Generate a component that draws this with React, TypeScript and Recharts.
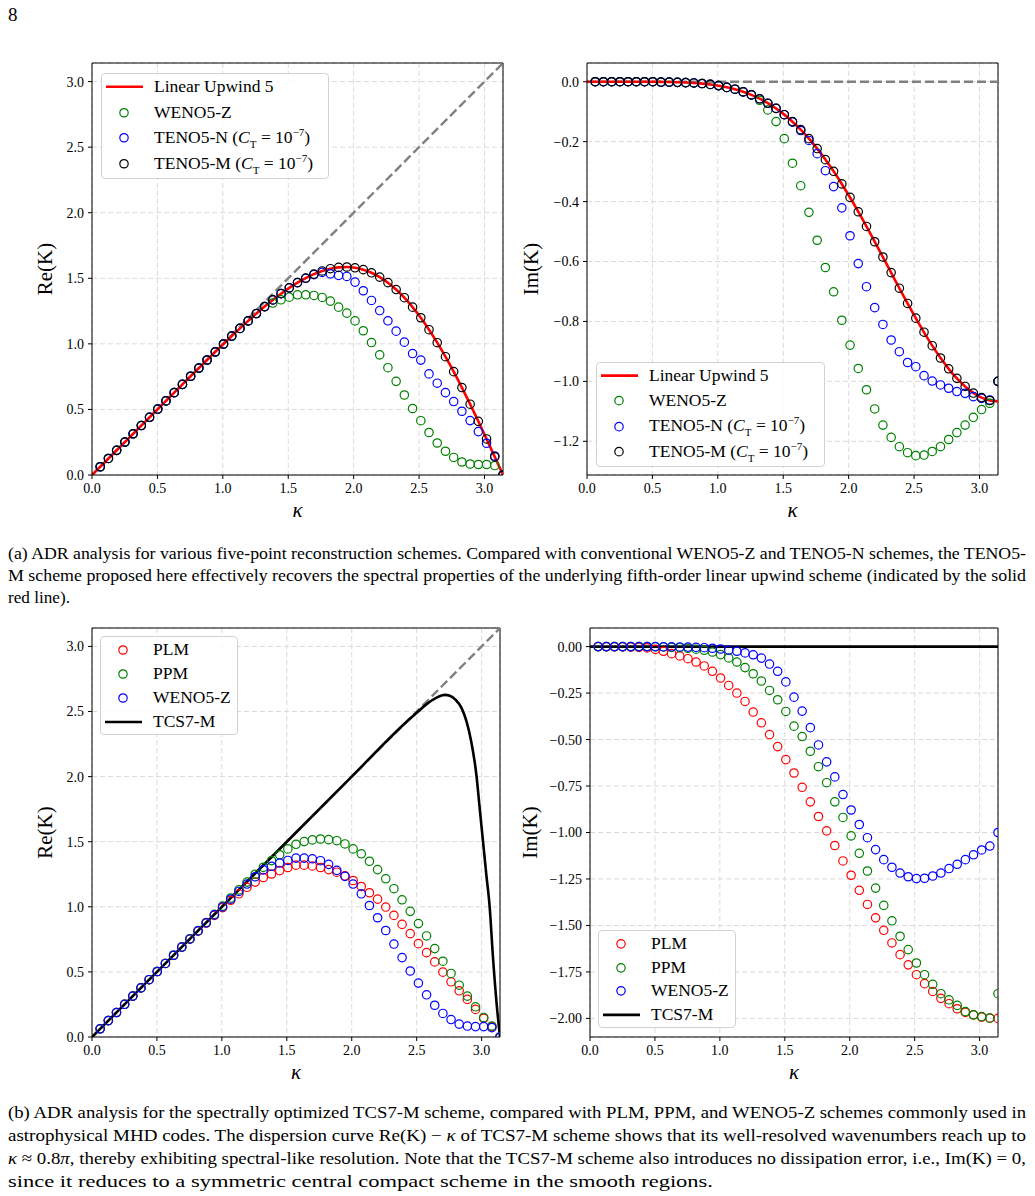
import React from 'react';
import { ComposedChart, Line, XAxis, YAxis, CartesianGrid, Legend, ReferenceLine } from 'recharts';

const SERIF = '"Liberation Serif", "Times New Roman", serif';
const XMAX = 3.1416;

// wavenumber grid of the marker samples (k = i*pi/50)
const kappa = [
  0.0628, 0.1257, 0.1885, 0.2513, 0.3142, 0.3770, 0.4398, 0.5027, 0.5655, 0.6283,
  0.6912, 0.7540, 0.8168, 0.8796, 0.9425, 1.0053, 1.0681, 1.1310, 1.1938, 1.2566,
  1.3195, 1.3823, 1.4451, 1.5080, 1.5708, 1.6336, 1.6965, 1.7593, 1.8221, 1.8850,
  1.9478, 2.0106, 2.0735, 2.1363, 2.1991, 2.2619, 2.3248, 2.3876, 2.4504, 2.5133,
  2.5761, 2.6389, 2.7018, 2.7646, 2.8274, 2.8903, 2.9531, 3.0159, 3.0788, 3.1416,
];
const uw5Kappa = [0, ...kappa];

const uw5Re = [0,
  0.0628, 0.1256, 0.1885, 0.2513, 0.3141, 0.3770, 0.4398, 0.5027, 0.5653, 0.6281,
  0.6906, 0.7530, 0.8153, 0.8771, 0.9385, 0.9992, 1.0591, 1.1178, 1.1751, 1.2307,
  1.2840, 1.3349, 1.3826, 1.4267, 1.4667, 1.5019, 1.5317, 1.5557, 1.5731, 1.5834,
  1.5858, 1.5801, 1.5657, 1.5420, 1.5091, 1.4665, 1.4141, 1.3518, 1.2800, 1.1987,
  1.1082, 1.0093, 0.9021, 0.7877, 0.6668, 0.5404, 0.4094, 0.2748, 0.1381, 0,
];
const uw5Im = [0,
  0, 0, 0, 0, 0, 0, -0.0001, -0.0003, -0.0005, -0.0009,
  -0.0016, -0.0027, -0.0042, -0.0064, -0.0093, -0.0133, -0.0186, -0.0252, -0.0336, -0.0440,
  -0.0565, -0.0715, -0.0892, -0.1098, -0.1333, -0.1601, -0.1900, -0.2232, -0.2596, -0.2991,
  -0.3414, -0.3865, -0.4338, -0.4830, -0.5337, -0.5853, -0.6373, -0.6892, -0.7400, -0.7893,
  -0.8364, -0.8807, -0.9215, -0.9582, -0.9903, -1.0172, -1.0386, -1.0541, -1.0635, -1.0667,
];

const tenoMRe = [
  0.063, 0.126, 0.188, 0.251, 0.314, 0.377, 0.440, 0.503, 0.565, 0.628,
  0.691, 0.753, 0.815, 0.877, 0.939, 0.999, 1.059, 1.118, 1.175, 1.231,
  1.284, 1.335, 1.383, 1.427, 1.467, 1.502, 1.532, 1.556, 1.573, 1.583,
  1.586, 1.580, 1.566, 1.542, 1.509, 1.467, 1.414, 1.352, 1.280, 1.199,
  1.108, 1.009, 0.902, 0.788, 0.667, 0.540, 0.409, 0.275, 0.138, 0,
];
const tenoMIm = [
  0, 0, 0, 0, 0, 0, 0, 0, -0.001, -0.001,
  -0.002, -0.003, -0.004, -0.006, -0.009, -0.013, -0.019, -0.025, -0.034, -0.044,
  -0.057, -0.072, -0.089, -0.110, -0.133, -0.160, -0.190, -0.223, -0.260, -0.299,
  -0.341, -0.386, -0.434, -0.483, -0.534, -0.585, -0.637, -0.689, -0.740, -0.789,
  -0.836, -0.881, -0.922, -0.958, -0.990, -1.017, -1.039, -1.054, -1.064, -1.000,
];

const wenoZRe = [
  0.063, 0.126, 0.188, 0.251, 0.314, 0.377, 0.440, 0.503, 0.565, 0.628,
  0.691, 0.753, 0.815, 0.877, 0.938, 0.999, 1.059, 1.118, 1.175, 1.231,
  1.284, 1.311, 1.336, 1.356, 1.374, 1.374, 1.369, 1.354, 1.326, 1.280,
  1.234, 1.175, 1.100, 1.010, 0.916, 0.818, 0.714, 0.610, 0.507, 0.414,
  0.324, 0.244, 0.181, 0.134, 0.099, 0.084, 0.080, 0.080, 0.072, 0,
];
const wenoZIm = [
  0, 0, 0, 0, 0, 0, 0, 0, -0.001, -0.001,
  -0.002, -0.003, -0.004, -0.006, -0.009, -0.013, -0.019, -0.025, -0.034, -0.044,
  -0.062, -0.094, -0.133, -0.190, -0.272, -0.347, -0.436, -0.529, -0.620, -0.701,
  -0.796, -0.879, -0.957, -1.028, -1.092, -1.146, -1.187, -1.218, -1.238, -1.248,
  -1.246, -1.234, -1.218, -1.194, -1.171, -1.146, -1.120, -1.094, -1.073, -1.000,
];

const tenoNRe = [
  0.063, 0.126, 0.188, 0.251, 0.314, 0.377, 0.440, 0.503, 0.565, 0.628,
  0.691, 0.753, 0.815, 0.877, 0.939, 0.999, 1.059, 1.118, 1.175, 1.231,
  1.284, 1.335, 1.383, 1.427, 1.467, 1.500, 1.528, 1.545, 1.534, 1.522,
  1.514, 1.471, 1.405, 1.331, 1.254, 1.176, 1.097, 1.013, 0.926, 0.876,
  0.771, 0.700, 0.628, 0.560, 0.486, 0.415, 0.331, 0.242, 0.145, 0,
];
const tenoNIm = [
  0, 0, 0, 0, 0, 0, 0, 0, -0.001, -0.001,
  -0.002, -0.003, -0.004, -0.006, -0.009, -0.013, -0.019, -0.025, -0.034, -0.044,
  -0.057, -0.072, -0.089, -0.110, -0.135, -0.163, -0.196, -0.240, -0.297, -0.350,
  -0.421, -0.514, -0.607, -0.684, -0.754, -0.810, -0.862, -0.901, -0.937, -0.951,
  -0.981, -0.999, -1.012, -1.023, -1.034, -1.040, -1.051, -1.057, -1.062, -1.000,
];

const plmRe = [
  0.063, 0.126, 0.188, 0.251, 0.314, 0.377, 0.440, 0.503, 0.565, 0.628,
  0.690, 0.752, 0.813, 0.874, 0.934, 0.993, 1.050, 1.100, 1.150, 1.190,
  1.225, 1.252, 1.278, 1.302, 1.320, 1.320, 1.314, 1.302, 1.286, 1.266,
  1.238, 1.202, 1.156, 1.108, 1.059, 0.998, 0.934, 0.865, 0.794, 0.717,
  0.648, 0.577, 0.498, 0.424, 0.355, 0.289, 0.212, 0.143, 0.079, 0,
];
const ppmRe = [
  0.063, 0.126, 0.188, 0.251, 0.314, 0.377, 0.440, 0.503, 0.565, 0.628,
  0.691, 0.754, 0.817, 0.880, 0.942, 1.005, 1.068, 1.130, 1.190, 1.250,
  1.304, 1.355, 1.400, 1.445, 1.480, 1.501, 1.514, 1.521, 1.516, 1.508,
  1.483, 1.445, 1.407, 1.350, 1.286, 1.215, 1.139, 1.054, 0.965, 0.871,
  0.776, 0.679, 0.582, 0.488, 0.398, 0.314, 0.232, 0.150, 0.085, 0,
];
const plmIm = [
  0, -0.001, -0.001, -0.002, -0.003, -0.004, -0.007, -0.015, -0.025, -0.038,
  -0.050, -0.065, -0.083, -0.104, -0.133, -0.169, -0.209, -0.250, -0.295, -0.352,
  -0.410, -0.473, -0.538, -0.608, -0.680, -0.757, -0.835, -0.914, -0.991, -1.070,
  -1.153, -1.230, -1.311, -1.387, -1.459, -1.526, -1.594, -1.657, -1.712, -1.765,
  -1.813, -1.855, -1.892, -1.921, -1.948, -1.968, -1.981, -1.993, -1.998, -2.000,
];
const ppmIm = [
  0, 0, 0, 0, 0, 0, 0, -0.001, -0.002, -0.004,
  -0.006, -0.009, -0.014, -0.020, -0.029, -0.043, -0.061, -0.083, -0.113, -0.146,
  -0.185, -0.236, -0.286, -0.349, -0.428, -0.484, -0.563, -0.646, -0.732, -0.835,
  -0.919, -1.018, -1.112, -1.207, -1.299, -1.392, -1.475, -1.558, -1.630, -1.702,
  -1.765, -1.817, -1.867, -1.900, -1.930, -1.963, -1.981, -1.990, -1.998, -1.867,
];

const tcsKappa = [0, 0.5, 1.0, 1.5, 2.0, 2.4, 2.5, 2.574, 2.65, 2.715, 2.76, 2.80, 2.844, 2.882, 2.92, 2.959, 2.985, 3.01, 3.036, 3.062, 3.087, 3.118, 3.1416];
const tcsRe = [0, 0.5, 1.0, 1.5, 2.0, 2.4, 2.49, 2.555, 2.605, 2.628, 2.62, 2.59, 2.53, 2.43, 2.27, 2.02, 1.76, 1.51, 1.25, 1.0, 0.62, 0.23, 0];
const tcsImKappa = [0, 3.1416];
const tcsIm = [0, 0];

const exactKappa = [0, 3.1416];
const exactRe = [0, 3.1416];
const exactIm = [0, 0];

const xTicks = [0, 0.5, 1.0, 1.5, 2.0, 2.5, 3.0];
const reTicks = [0, 0.5, 1.0, 1.5, 2.0, 2.5, 3.0];
const imTicksA = [0, -0.2, -0.4, -0.6, -0.8, -1.0, -1.2];
const imTicksB = [0, -0.25, -0.5, -0.75, -1.0, -1.25, -1.5, -1.75, -2.0];

const pts = (xs: number[], ys: number[]) => xs.map((k, i) => ({ k, v: ys[i] }));

type Series = { id: string; kind: 'dash' | 'line' | 'marker'; color: string; data: { k: number; v: number }[] };
type LegendItem = { label: React.ReactNode; kind: 'line' | 'marker'; color: string };

const cT = (name: string) => (
  <span>
    {name} (<i>C</i><sub style={{ fontSize: 11, lineHeight: 0 }}>T</sub> = 10<sup style={{ fontSize: 11, lineHeight: 0 }}>−7</sup>)
  </span>
);

const legendA: LegendItem[] = [
  { label: 'Linear Upwind 5', kind: 'line', color: '#ff0000' },
  { label: 'WENO5-Z', kind: 'marker', color: '#008000' },
  { label: cT('TENO5-N'), kind: 'marker', color: '#0000ff' },
  { label: cT('TENO5-M'), kind: 'marker', color: '#000000' },
];
const legendB: LegendItem[] = [
  { label: 'PLM', kind: 'marker', color: '#ff0000' },
  { label: 'PPM', kind: 'marker', color: '#008000' },
  { label: 'WENO5-Z', kind: 'marker', color: '#0000ff' },
  { label: 'TCS7-M', kind: 'line', color: '#000000' },
];

function LegendBox({ items, rowH, padTop, width, height }: { items: LegendItem[]; rowH: number; padTop: number; width: number; height: number }) {
  return (
    <div style={{
      width, height, boxSizing: 'border-box', paddingTop: padTop,
      background: 'rgba(255,255,255,0.85)', border: '1px solid #d2d2d2', borderRadius: 4,
      fontFamily: SERIF, fontSize: 17.5, color: '#000',
    }}>
      {items.map((it, i) => (
        <div key={i} style={{ display: 'flex', alignItems: 'center', height: rowH }}>
          <svg width={52} height={rowH} style={{ flex: 'none' }}>
            {it.kind === 'line'
              ? <line x1={4} x2={41} y1={rowH / 2} y2={rowH / 2} stroke={it.color} strokeWidth={2.6} />
              : <circle cx={22} cy={rowH / 2} r={4.2} fill="none" stroke={it.color} strokeWidth={1.2} />}
          </svg>
          <span style={{ whiteSpace: 'nowrap', lineHeight: 1 }}>{it.label}</span>
        </div>
      ))}
    </div>
  );
}

type PanelProps = {
  plotLeft: number; plotTop: number; plotW: number; plotH: number;
  yDomain: [number, number]; yTicks: number[]; yDigits: number;
  yLabel: string; yLabelX: number;
  series: Series[];
  legendItems: LegendItem[]; legendBox: { x: number; y: number; w: number; h: number; rowH: number; padTop: number };
};

function Panel(p: PanelProps) {
  const YW = 82, MT = 10, MR = 10, XH = 50;
  const chartLeft = p.plotLeft - YW;
  const chartTop = p.plotTop - MT;
  const fmt = (v: number) => v.toFixed(p.yDigits).replace('-', '−');
  const tickStyle = { fontFamily: SERIF, fontSize: 14, fill: '#000' };
  return (
    <div style={{ position: 'absolute', left: chartLeft, top: chartTop }}>
      <ComposedChart width={p.plotW + YW + MR} height={p.plotH + MT + XH} margin={{ top: MT, right: MR, bottom: 0, left: 0 }}>
        <CartesianGrid stroke="#dadada" strokeDasharray="5 3" strokeWidth={1} />
        <XAxis
          type="number" dataKey="k" domain={[0, XMAX]} ticks={xTicks} allowDataOverflow
          height={XH} tickSize={4} tickMargin={4} tick={tickStyle}
          tickFormatter={(v: number) => v.toFixed(1)}
          axisLine={{ stroke: '#000' }} tickLine={{ stroke: '#000' }}
          label={{ value: 'κ', position: 'insideBottom', offset: 8, style: { fontFamily: SERIF, fontSize: 21, fontStyle: 'italic', fill: '#000' } }}
        />
        <YAxis
          type="number" domain={p.yDomain} ticks={p.yTicks} allowDataOverflow
          width={YW} tickSize={4} tickMargin={4} tick={tickStyle} tickFormatter={fmt}
          axisLine={{ stroke: '#000' }} tickLine={{ stroke: '#000' }}
          label={{ value: p.yLabel, angle: -90, position: 'insideLeft', offset: p.yLabelX - chartLeft, style: { fontFamily: SERIF, fontSize: 21, fill: '#000', textAnchor: 'middle' } }}
        />
        <ReferenceLine x={XMAX} stroke="#000" strokeWidth={1} />
        <ReferenceLine y={p.yDomain[1]} stroke="#000" strokeWidth={1} />
        {p.series.map((s) => {
          if (s.kind === 'marker') {
            return (
              <Line key={s.id} data={s.data} dataKey="v" type="linear" stroke="none" strokeWidth={0}
                dot={{ r: 4.2, stroke: s.color, strokeWidth: 1.2, fill: 'none' }} activeDot={false}
                isAnimationActive={false} legendType="none" />
            );
          }
          return (
            <Line key={s.id} data={s.data} dataKey="v" type={s.kind === 'line' ? 'monotone' : 'linear'}
              stroke={s.color} strokeWidth={s.kind === 'dash' ? 2.4 : 2.6}
              strokeDasharray={s.kind === 'dash' ? '9 4' : undefined}
              dot={false} activeDot={false} isAnimationActive={false} legendType="none" />
          );
        })}
        <Legend
          layout="vertical" align="center" verticalAlign="middle"
          wrapperStyle={{ left: p.legendBox.x - chartLeft, top: p.legendBox.y - chartTop, width: p.legendBox.w, height: p.legendBox.h }}
          content={() => (
            <LegendBox items={p.legendItems} rowH={p.legendBox.rowH} padTop={p.legendBox.padTop} width={p.legendBox.w} height={p.legendBox.h} />
          )}
        />
      </ComposedChart>
    </div>
  );
}

const capA = [
  '(a) ADR analysis for various five-point reconstruction schemes. Compared with conventional WENO5-Z and TENO5-N schemes, the TENO5-',
  'M scheme proposed here effectively recovers the spectral properties of the underlying fifth-order linear upwind scheme (indicated by the solid',
  'red line).',
];

export default function App() {
  const topA: Series[] = [
    { id: 'exact', kind: 'dash', color: '#808080', data: pts(exactKappa, exactRe) },
    { id: 'wenoz', kind: 'marker', color: '#008000', data: pts(kappa, wenoZRe) },
    { id: 'tenon', kind: 'marker', color: '#0000ff', data: pts(kappa, tenoNRe) },
    { id: 'tenom', kind: 'marker', color: '#000000', data: pts(kappa, tenoMRe) },
    { id: 'uw5', kind: 'line', color: '#ff0000', data: pts(uw5Kappa, uw5Re) },
  ];
  const topB: Series[] = [
    { id: 'exact', kind: 'dash', color: '#808080', data: pts(exactKappa, exactIm) },
    { id: 'wenoz', kind: 'marker', color: '#008000', data: pts(kappa, wenoZIm) },
    { id: 'tenon', kind: 'marker', color: '#0000ff', data: pts(kappa, tenoNIm) },
    { id: 'tenom', kind: 'marker', color: '#000000', data: pts(kappa, tenoMIm) },
    { id: 'uw5', kind: 'line', color: '#ff0000', data: pts(uw5Kappa, uw5Im) },
  ];
  const botA: Series[] = [
    { id: 'exact', kind: 'dash', color: '#808080', data: pts(exactKappa, exactRe) },
    { id: 'plm', kind: 'marker', color: '#ff0000', data: pts(kappa, plmRe) },
    { id: 'ppm', kind: 'marker', color: '#008000', data: pts(kappa, ppmRe) },
    { id: 'wenoz', kind: 'marker', color: '#0000ff', data: pts(kappa, wenoZRe) },
    { id: 'tcs', kind: 'line', color: '#000000', data: pts(tcsKappa, tcsRe) },
  ];
  const botB: Series[] = [
    { id: 'plm', kind: 'marker', color: '#ff0000', data: pts(kappa, plmIm) },
    { id: 'ppm', kind: 'marker', color: '#008000', data: pts(kappa, ppmIm) },
    { id: 'wenoz', kind: 'marker', color: '#0000ff', data: pts(kappa, wenoZIm) },
    { id: 'tcs', kind: 'line', color: '#000000', data: pts(tcsImKappa, tcsIm) },
  ];

  const capStyle = { fontFamily: SERIF, fontSize: 17.5, fill: '#000' };

  return (
    <div style={{ position: 'absolute', left: 0, top: 0, width: 1035, height: 1196, background: '#fff' }}>
      <svg width={1035} height={1196} style={{ position: 'absolute', left: 0, top: 0 }}>
        <text x={8} y={21} style={{ ...capStyle, fontSize: 19 }}>8</text>
        <text x={8} y={559} textLength={1018} lengthAdjust="spacingAndGlyphs" style={capStyle}>{capA[0]}</text>
        <text x={8} y={581} textLength={1018} lengthAdjust="spacingAndGlyphs" style={capStyle}>{capA[1]}</text>
        <text x={8} y={603} textLength={62} lengthAdjust="spacingAndGlyphs" style={capStyle}>{capA[2]}</text>
        <text x={8} y={1118} textLength={1018} lengthAdjust="spacingAndGlyphs" style={capStyle}>
          (b) ADR analysis for the spectrally optimized TCS7-M scheme, compared with PLM, PPM, and WENO5-Z schemes commonly used in
        </text>
        <text x={8} y={1141} textLength={1018} lengthAdjust="spacingAndGlyphs" style={capStyle}>
          astrophysical MHD codes.  The dispersion curve Re(K) − <tspan fontStyle="italic">κ</tspan> of TCS7-M scheme shows that its well-resolved wavenumbers reach up to
        </text>
        <text x={8} y={1164} textLength={1018} lengthAdjust="spacingAndGlyphs" style={capStyle}>
          <tspan fontStyle="italic">κ</tspan> ≈ 0.8<tspan fontStyle="italic">π</tspan>, thereby exhibiting spectral-like resolution. Note that the TCS7-M scheme also introduces no dissipation error, i.e., Im(K) = 0,
        </text>
        <text x={8} y={1187} textLength={705} lengthAdjust="spacingAndGlyphs" style={capStyle}>
          since it reduces to a symmetric central compact scheme in the smooth regions.
        </text>
      </svg>

      <Panel plotLeft={92} plotTop={63} plotW={411} plotH={412}
        yDomain={[0, 3.1416]} yTicks={reTicks} yDigits={1} yLabel="Re(K)" yLabelX={45}
        series={topA} legendItems={legendA}
        legendBox={{ x: 101, y: 73, w: 228, h: 106, rowH: 25.5, padTop: 0 }} />
      <Panel plotLeft={587} plotTop={63} plotW={411} plotH={412}
        yDomain={[-1.3125, 0.0625]} yTicks={imTicksA} yDigits={1} yLabel="Im(K)" yLabelX={531}
        series={topB} legendItems={legendA}
        legendBox={{ x: 596, y: 362, w: 229, h: 105, rowH: 25.3, padTop: 0 }} />
      <Panel plotLeft={92} plotTop={628} plotW={408} plotH={409}
        yDomain={[0, 3.1416]} yTicks={reTicks} yDigits={1} yLabel="Re(K)" yLabelX={45}
        series={botA} legendItems={legendB}
        legendBox={{ x: 100, y: 636, w: 138, h: 99, rowH: 24, padTop: 1 }} />
      <Panel plotLeft={590} plotTop={628} plotW={408} plotH={409}
        yDomain={[-2.1, 0.1]} yTicks={imTicksB} yDigits={2} yLabel="Im(K)" yLabelX={530}
        series={botB} legendItems={legendB}
        legendBox={{ x: 598, y: 930, w: 138, h: 98, rowH: 23.7, padTop: 1 }} />
    </div>
  );
}
